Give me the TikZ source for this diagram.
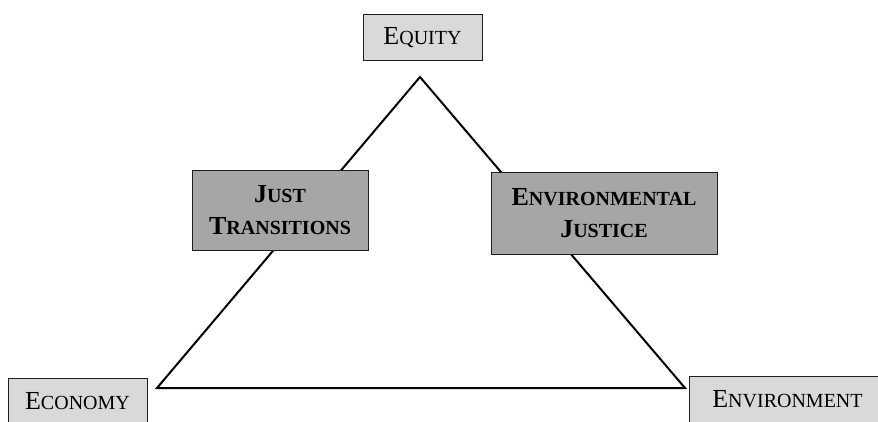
\documentclass[tikz,border=0pt]{standalone}
\usepackage{fontspec}
\setmainfont{Liberation Serif}
\usepackage{tikz}
\usetikzlibrary{backgrounds}
\definecolor{boxlight}{RGB}{217,217,217}
\definecolor{boxdark}{RGB}{166,166,166}
\definecolor{boxedge}{RGB}{30,30,30}
\newcommand{\smc}[2]{#1{\fontsize{20}{32}\selectfont #2}}

\begin{document}
\begin{tikzpicture}[x=1pt,y=-1pt,
  lightbox/.style={draw=boxedge,line width=1pt,fill=boxlight,inner sep=0pt,
    font=\fontsize{26}{32}\selectfont},
  darkbox/.style={draw=boxedge,line width=1pt,fill=boxdark,inner sep=0pt,align=center,
    font=\fontsize{26}{32}\selectfont\bfseries}]
\useasboundingbox (0,0) rectangle (878,422);
%Pillars
\node[lightbox,minimum width=119pt,minimum height=46pt] (equity) at (422.5,38) {\smc{E}{QUITY}};
\node[lightbox,minimum width=139pt,minimum height=46pt] (economy) at (77.5,401) {\smc{E}{CONOMY}};
\node[lightbox,minimum width=197pt,minimum height=47pt] (environment) at (787.5,399.5) {\smc{E}{NVIRONMENT}};
%Links
\node[darkbox,minimum width=176pt,minimum height=79pt] (just) at (280,210.5) {\smc{J}{UST}\\\smc{T}{RANSITIONS}};
\node[darkbox,minimum width=226pt,minimum height=81pt] (envjust) at (604,213.5) {\smc{E}{NVIRONMENTAL}\\\smc{J}{USTICE}};
%Triangle
\coordinate (apex) at (420,77);
\coordinate (cornerl) at (157,388);
\coordinate (cornerr) at (685,388);
\begin{scope}[on background layer]
\draw[line width=2pt,line join=miter] (apex) -- (cornerl) -- (cornerr) -- cycle;
\end{scope}
\end{tikzpicture}
\end{document}
